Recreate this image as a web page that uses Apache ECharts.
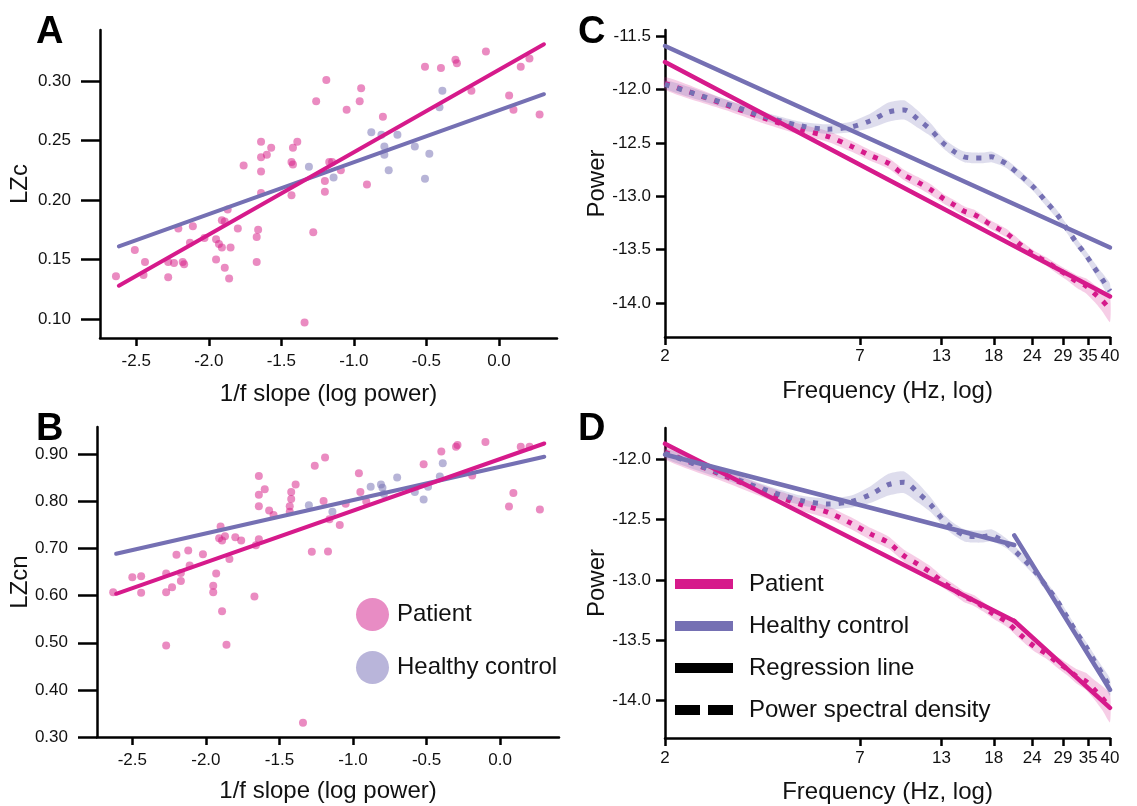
<!DOCTYPE html>
<html>
<head>
<meta charset="utf-8">
<script src="https://cdn.jsdelivr.net/npm/echarts@6/dist/echarts.min.js"></script>
<style>html,body{margin:0;padding:0;background:#fff}#c{width:1137px;height:806px}</style>
</head>
<body>
<div id="c"></div>
<script>
// ---------- Panel A (LZc vs 1/f slope) ----------
const aPatientX = [-2.64,-2.51,-2.44,-2.45,-2.28,-2.28,-2.24,-2.21,-2.18,-2.17,-2.13,-2.11,-2.03,-1.95,-1.95,-1.93,-1.91,-1.91,-1.89,-1.89,-1.87,-1.86,-1.85,-1.80,-1.76,-1.67,-1.66,-1.67,-1.64,-1.64,-1.64,-1.64,-1.60,-1.57,-1.43,-1.43,-1.42,-1.42,-1.39,-1.34,-1.28,-1.26,-1.20,-1.20,-1.19,-1.17,-1.15,-1.09,-1.05,-0.96,-0.95,-0.91,-0.80,-0.51,-0.40,-0.30,-0.29,-0.19,-0.09,0.07,0.10,0.15,0.21,0.28];
const aPatientY = [0.136,0.158,0.148,0.137,0.148,0.135,0.147,0.176,0.148,0.146,0.164,0.178,0.168,0.167,0.150,0.163,0.160,0.183,0.182,0.143,0.192,0.134,0.160,0.176,0.229,0.169,0.175,0.148,0.206,0.224,0.236,0.249,0.238,0.244,0.232,0.204,0.244,0.230,0.249,0.097,0.173,0.283,0.216,0.207,0.301,0.232,0.232,0.225,0.276,0.283,0.294,0.213,0.270,0.312,0.311,0.318,0.315,0.292,0.325,0.288,0.276,0.312,0.319,0.272];
const aHealthyX = [-1.31,-1.14,-0.88,-0.81,-0.79,-0.79,-0.76,-0.70,-0.58,-0.51,-0.48,-0.41,-0.39];
const aHealthyY = [0.228,0.219,0.257,0.255,0.245,0.238,0.225,0.255,0.245,0.218,0.239,0.278,0.292];
const aFitX = [-2.62, 0.31];
const aPatientFit = [0.128, 0.331];
const aHealthyFit = [0.161, 0.289];
const aYTicks = [0.10, 0.15, 0.20, 0.25, 0.30];

// ---------- Panel B (LZcn vs 1/f slope) ----------
const bPatientX = [-2.63,-2.50,-2.44,-2.44,-2.27,-2.27,-2.27,-2.23,-2.20,-2.17,-2.17,-2.12,-2.11,-2.02,-1.95,-1.95,-1.93,-1.91,-1.90,-1.89,-1.89,-1.87,-1.86,-1.84,-1.80,-1.76,-1.67,-1.66,-1.64,-1.64,-1.64,-1.64,-1.60,-1.57,-1.54,-1.43,-1.43,-1.42,-1.42,-1.39,-1.34,-1.28,-1.26,-1.20,-1.19,-1.17,-1.16,-1.09,-1.05,-0.96,-0.95,-0.91,-0.52,-0.40,-0.30,-0.29,-0.19,-0.10,0.06,0.09,0.14,0.20,0.27];
const bPatientY = [0.607,0.639,0.641,0.606,0.494,0.607,0.647,0.618,0.687,0.631,0.648,0.696,0.664,0.688,0.621,0.607,0.647,0.722,0.747,0.717,0.567,0.726,0.496,0.678,0.724,0.717,0.598,0.707,0.720,0.790,0.814,0.854,0.826,0.781,0.771,0.790,0.778,0.805,0.820,0.836,0.330,0.693,0.876,0.801,0.893,0.694,0.762,0.750,0.795,0.860,0.820,0.800,0.879,0.906,0.916,0.920,0.855,0.926,0.789,0.818,0.916,0.916,0.783];
const bHealthyX = [-1.30,-1.14,-0.88,-0.81,-0.80,-0.79,-0.70,-0.58,-0.52,-0.49,-0.41,-0.39];
const bHealthyY = [0.792,0.778,0.831,0.836,0.829,0.816,0.851,0.820,0.804,0.831,0.853,0.881];
const bFitX = [-2.61, 0.30];
const bPatientFit = [0.604, 0.923];
const bHealthyFit = [0.689, 0.895];
const bYTicks = [0.30, 0.40, 0.50, 0.60, 0.70, 0.80, 0.90];
const slopeTicks = [-2.5, -2.0, -1.5, -1.0, -0.5, 0.0];

// ---------- Panels C & D (power spectra) ----------
const freqs = [2,3,4,5,6,7,8,9,10,11,12,13,14,15,16,17,18,19,20,22,24,26,28,30,32,34,36,38,40];
const psdPatient = [-11.94,-12.14,-12.28,-12.375,-12.44,-12.53,-12.62,-12.69,-12.80,-12.87,-12.94,-13.02,-13.08,-13.14,-13.17,-13.22,-13.27,-13.31,-13.35,-13.46,-13.55,-13.61,-13.68,-13.74,-13.80,-13.84,-13.91,-13.98,-14.06];
const psdPatientSE = [0.06,0.05,0.05,0.05,0.05,0.05,0.05,0.05,0.05,0.05,0.05,0.045,0.045,0.045,0.045,0.04,0.04,0.04,0.04,0.04,0.04,0.04,0.045,0.05,0.06,0.07,0.08,0.10,0.12];
const psdHealthy = [-11.95,-12.13,-12.26,-12.34,-12.37,-12.35,-12.29,-12.21,-12.19,-12.28,-12.38,-12.50,-12.58,-12.63,-12.64,-12.64,-12.63,-12.66,-12.70,-12.81,-12.92,-13.05,-13.17,-13.31,-13.44,-13.55,-13.67,-13.78,-13.89];
const psdHealthySE = [0.04,0.04,0.04,0.04,0.045,0.05,0.07,0.09,0.09,0.08,0.06,0.05,0.05,0.05,0.05,0.05,0.05,0.045,0.04,0.04,0.04,0.04,0.04,0.04,0.04,0.04,0.05,0.06,0.07];
const cFitFreq = [2, 40];
const cPatientFit = [-11.74, -13.94];
const cHealthyFit = [-11.59, -13.48];
const dFitFreq1 = [2, 21];
const dFitFreq2 = [21, 40];
const dPatientFit1 = [-11.87, -13.34];
const dPatientFit2 = [-13.34, -14.06];
const dHealthyFit1 = [-11.96, -12.71];
const dHealthyFit2 = [-12.63, -13.91];
const freqTicks = [2, 7.43, 12.86, 18.29, 23.71, 29.14, 34.57, 40];
const freqTickLabels = ['2','7','13','18','24','29','35','40'];
const cYTicks = [-11.5, -12.0, -12.5, -13.0, -13.5, -14.0];
const dYTicks = [-12.0, -12.5, -13.0, -13.5, -14.0];

// ---------- styling ----------
const FONT = '"Liberation Sans", Arial, Helvetica, sans-serif';
const PINK = '#d61a8b';
const PURPLE = '#7570b3';
const PINK_DOT = '#d62088';
const PURPLE_DOT = '#7570b3';
const PINK_BAND = 'rgba(214,26,139,0.22)';
const PURPLE_BAND = 'rgba(117,112,179,0.24)';
const lg = Math.log10;

function mkAxis(o) {
  return {
    type: 'value', gridIndex: o.gi, min: o.min, max: o.max,
    axisLine: {show: true, onZero: false, lineStyle: {color: '#000', width: 2.5}},
    axisTick: {show: true, length: o.tickLen, customValues: o.ticks, lineStyle: {color: '#000', width: 2.5}},
    axisLabel: {show: true, customValues: o.ticks, formatter: o.fmt, margin: o.margin, color: '#111', fontSize: 17, fontFamily: FONT},
    splitLine: {show: false},
    name: o.name, nameLocation: 'middle', nameGap: o.nameGap, nameMoveOverlap: false,
    nameTextStyle: {color: '#111', fontSize: 24, fontFamily: FONT}
  };
}
const freqTicksLog = freqTicks.map(lg);
function freqFmt(v) {
  let best = 0;
  freqTicksLog.forEach((t, i) => { if (Math.abs(t - v) < Math.abs(freqTicksLog[best] - v)) best = i; });
  return freqTickLabels[best];
}

function zip(xs, ys) { return xs.map((x, i) => [x, ys[i]]); }
function scatter(gi, name, xs, ys, color) {
  return {type: 'scatter', name, xAxisIndex: gi, yAxisIndex: gi, data: zip(xs, ys), symbolSize: 8,
    itemStyle: {color, opacity: 0.52}, z: 2, silent: true};
}
function fitLine(gi, name, xs, ys, color, width) {
  return {type: 'line', name, xAxisIndex: gi, yAxisIndex: gi, data: zip(xs, ys), symbol: 'none',
    lineStyle: {color, width, cap: 'round'}, z: 5, silent: true};
}
function psdLine(gi, name, vals, color) {
  return {type: 'line', name, xAxisIndex: gi, yAxisIndex: gi, data: freqs.map((f, i) => [lg(f), vals[i]]),
    symbol: 'none', smooth: 0.3, lineStyle: {color, width: 5, type: [5, 8], cap: 'butt'}, z: 4, silent: true};
}
function band(gi, mean, se, color) {
  const data = freqs.map((f, i) => [lg(f), mean[i] - se[i], mean[i] + se[i]]);
  return {type: 'custom', xAxisIndex: gi, yAxisIndex: gi, data, encode: {x: 0, y: [1, 2]}, silent: true, z: 1,
    renderItem: function (params, api) {
      if (params.dataIndex !== 0) return null;
      const up = data.map(d => api.coord([d[0], d[2]]));
      const lo = data.map(d => api.coord([d[0], d[1]])).reverse();
      return {type: 'polygon', shape: {points: up.concat(lo), smooth: 0.2}, style: {fill: color}};
    }};
}

const option = {
  animation: false,
  backgroundColor: '#fff',
  textStyle: {fontFamily: FONT},
  grid: [
    {left: 100, top: 30, width: 457, height: 308, outerBoundsMode: 'none'},
    {left: 97, top: 427, width: 462, height: 310, outerBoundsMode: 'none'},
    {left: 665, top: 30, width: 445, height: 307, outerBoundsMode: 'none'},
    {left: 665, top: 428, width: 445, height: 310, outerBoundsMode: 'none'}
  ],
  xAxis: [
    mkAxis({gi: 0, min: -2.75, max: 0.40, ticks: slopeTicks, fmt: v => v.toFixed(1), tickLen: 8, margin: 15, name: '1/f slope (log power)', nameGap: 44}),
    mkAxis({gi: 1, min: -2.74, max: 0.40, ticks: slopeTicks, fmt: v => v.toFixed(1), tickLen: 8, margin: 15, name: '1/f slope (log power)', nameGap: 42}),
    mkAxis({gi: 2, min: lg(2), max: lg(40), ticks: freqTicksLog, fmt: freqFmt, tickLen: 8, margin: 11, name: 'Frequency (Hz, log)', nameGap: 42}),
    mkAxis({gi: 3, min: lg(2), max: lg(40), ticks: freqTicksLog, fmt: freqFmt, tickLen: 8, margin: 12, name: 'Frequency (Hz, log)', nameGap: 42})
  ],
  yAxis: [
    mkAxis({gi: 0, min: 0.084, max: 0.343, ticks: aYTicks, fmt: v => v.toFixed(2), tickLen: 19, margin: 29, name: 'LZc', nameGap: 68}),
    mkAxis({gi: 1, min: 0.30, max: 0.958, ticks: bYTicks, fmt: v => v.toFixed(2), tickLen: 19, margin: 29, name: 'LZcn', nameGap: 65}),
    mkAxis({gi: 2, min: -14.32, max: -11.44, ticks: cYTicks, fmt: v => v.toFixed(1), tickLen: 9, margin: 14, name: 'Power', nameGap: 56}),
    mkAxis({gi: 3, min: -14.31, max: -11.74, ticks: dYTicks, fmt: v => v.toFixed(1), tickLen: 9, margin: 14, name: 'Power', nameGap: 56})
  ],
  legend: [
    {orient: 'vertical', left: 356, top: 598, padding: 0, itemWidth: 33, itemHeight: 33, itemGap: 20, selectedMode: false,
     textStyle: {fontSize: 24, color: '#111', fontFamily: FONT, padding: [0, 0, 0, 3]},
     data: [
       {name: 'Patient', icon: 'circle', itemStyle: {color: '#e88cc4', opacity: 1}},
       {name: 'Healthy control', icon: 'circle', itemStyle: {color: '#b9b5da', opacity: 1}}
     ]},
    {orient: 'vertical', left: 675, top: 572, padding: 0, itemWidth: 58, itemHeight: 10, itemGap: 18, selectedMode: false,
     textStyle: {fontSize: 24, color: '#111', fontFamily: FONT, padding: [0, 0, 0, 11]},
     data: [
       {name: 'Patient', icon: 'rect', itemStyle: {color: PINK, opacity: 1}},
       {name: 'Healthy control', icon: 'rect', itemStyle: {color: PURPLE, opacity: 1}},
       {name: 'Regression line', icon: 'rect', itemStyle: {color: '#000', opacity: 1}},
       {name: 'Power spectral density', icon: 'path://M0,0H25V10H0Z M33,0H58V10H33Z', itemStyle: {color: '#000', opacity: 1}}
     ]}
  ],
  graphic: [
    {type: 'text', left: 36, top: 14, style: {text: 'A', font: 'bold 38px ' + FONT, fill: '#000'}},
    {type: 'text', left: 36, top: 411, style: {text: 'B', font: 'bold 38px ' + FONT, fill: '#000'}},
    {type: 'text', left: 578, top: 14, style: {text: 'C', font: 'bold 38px ' + FONT, fill: '#000'}},
    {type: 'text', left: 578, top: 411, style: {text: 'D', font: 'bold 38px ' + FONT, fill: '#000'}}
  ],
  series: [
    // A
    scatter(0, 'Patient', aPatientX, aPatientY, PINK_DOT),
    scatter(0, 'Healthy control', aHealthyX, aHealthyY, PURPLE_DOT),
    fitLine(0, 'Healthy control', aFitX, aHealthyFit, PURPLE, 4),
    fitLine(0, 'Patient', aFitX, aPatientFit, PINK, 4),
    // B
    scatter(1, 'Patient', bPatientX, bPatientY, PINK_DOT),
    scatter(1, 'Healthy control', bHealthyX, bHealthyY, PURPLE_DOT),
    fitLine(1, 'Healthy control', bFitX, bHealthyFit, PURPLE, 4),
    fitLine(1, 'Patient', bFitX, bPatientFit, PINK, 4),
    // C
    band(2, psdPatient, psdPatientSE, PINK_BAND),
    band(2, psdHealthy, psdHealthySE, PURPLE_BAND),
    psdLine(2, 'Patient', psdPatient, PINK),
    psdLine(2, 'Healthy control', psdHealthy, PURPLE),
    fitLine(2, 'Patient', cFitFreq.map(lg), cPatientFit, PINK, 4.5),
    fitLine(2, 'Healthy control', cFitFreq.map(lg), cHealthyFit, PURPLE, 4.5),
    // D
    band(3, psdPatient, psdPatientSE, PINK_BAND),
    band(3, psdHealthy, psdHealthySE, PURPLE_BAND),
    psdLine(3, 'Patient', psdPatient, PINK),
    psdLine(3, 'Healthy control', psdHealthy, PURPLE),
    fitLine(3, 'Patient', dFitFreq1.map(lg), dPatientFit1, PINK, 4.5),
    fitLine(3, 'Patient', dFitFreq2.map(lg), dPatientFit2, PINK, 4.5),
    fitLine(3, 'Healthy control', dFitFreq1.map(lg), dHealthyFit1, PURPLE, 4.5),
    fitLine(3, 'Healthy control', dFitFreq2.map(lg), dHealthyFit2, PURPLE, 4.5),
    // legend-only entries
    {type: 'line', name: 'Regression line', xAxisIndex: 3, yAxisIndex: 3, data: [], lineStyle: {color: '#000'}, itemStyle: {color: '#000'}},
    {type: 'line', name: 'Power spectral density', xAxisIndex: 3, yAxisIndex: 3, data: [], lineStyle: {color: '#000', type: 'dashed'}, itemStyle: {color: '#000'}}
  ]
};

const chart = echarts.init(document.getElementById('c'), null, {renderer: 'canvas'});
chart.setOption(option);
</script>
</body>
</html>
